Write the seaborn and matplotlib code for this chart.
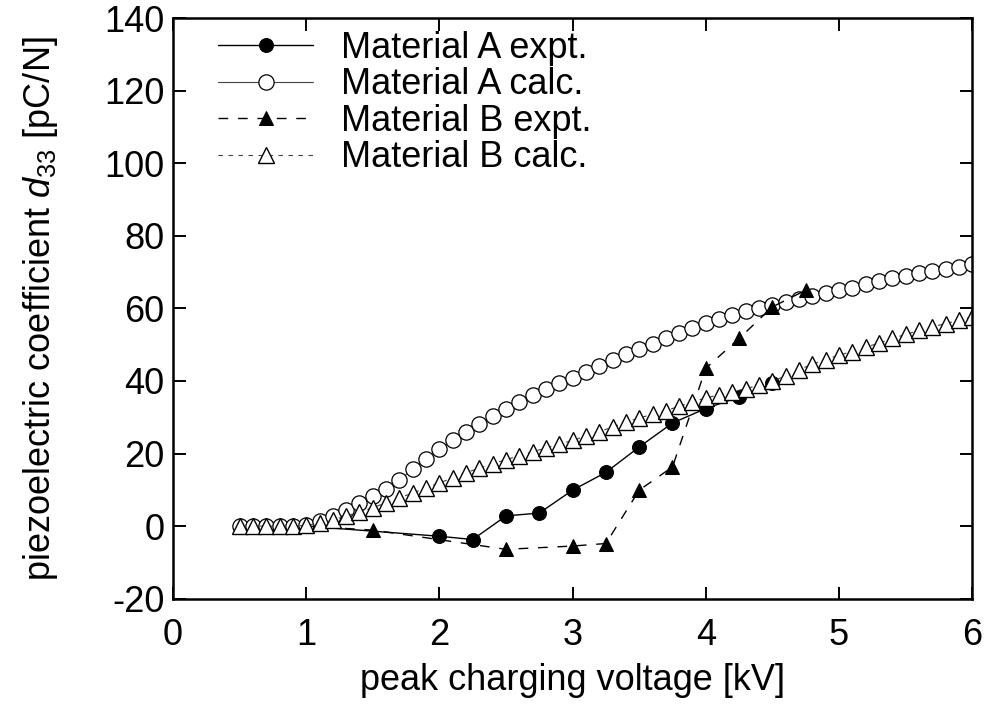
import numpy as np
import pandas as pd
import matplotlib
matplotlib.use("Agg")
import matplotlib.pyplot as plt
import seaborn as sns

# Measured points (peak charging voltage in kV, d33 in pC/N)
a_expt_kv = [1.0, 2.0, 2.25, 2.5, 2.75, 3.0, 3.25, 3.5, 3.75, 4.0, 4.25, 4.5]
a_expt_d33 = [0.0, -2.8, -3.7, 2.8, 3.6, 9.9, 14.8, 21.8, 28.4, 32.4, 35.6, 39.3]

b_expt_kv = [1.0, 1.5, 2.5, 3.0, 3.25, 3.5, 3.75, 4.0, 4.25, 4.5, 4.75]
b_expt_d33 = [0.0, -1.1, -6.4, -5.5, -4.8, 9.9, 16.3, 43.5, 51.7, 60.4, 65.0]

# Calculated curves
calc_kv = [0.5, 0.6, 0.7, 0.8, 0.9, 1.0, 1.1, 1.2, 1.3, 1.4,
           1.5, 1.6, 1.7, 1.8, 1.9, 2.0, 2.1, 2.2, 2.3, 2.4,
           2.5, 2.6, 2.7, 2.8, 2.9, 3.0, 3.1, 3.2, 3.3, 3.4,
           3.5, 3.6, 3.7, 3.8, 3.9, 4.0, 4.1, 4.2, 4.3, 4.4,
           4.5, 4.6, 4.7, 4.8, 4.9, 5.0, 5.1, 5.2, 5.3, 5.4,
           5.5, 5.6, 5.7, 5.8, 5.9, 6.0]
a_calc_d33 = [0.0, 0.0, 0.0, 0.0, 0.0, 0.3, 1.3, 2.8, 4.5, 6.3,
              8.2, 10.3, 12.8, 15.6, 18.5, 21.2, 23.6, 25.9, 28.1, 30.2,
              32.2, 34.1, 36.0, 37.7, 39.3, 40.9, 42.5, 44.1, 45.7, 47.3,
              48.8, 50.3, 51.7, 53.1, 54.5, 55.9, 57.2, 58.3, 59.3, 60.2,
              61.0, 61.8, 62.6, 63.4, 64.2, 65.0, 65.7, 66.6, 67.4, 68.3,
              69.0, 69.7, 70.3, 70.9, 71.5, 72.1]
b_calc_d33 = [0.0, 0.0, 0.0, 0.0, 0.0, 0.2, 0.8, 1.7, 2.8, 3.9,
              5.1, 6.4, 7.8, 9.1, 10.5, 11.9, 13.3, 14.7, 16.0, 17.2,
              18.3, 19.4, 20.5, 21.5, 22.6, 23.6, 24.8, 26.0, 27.3, 28.6,
              29.8, 30.8, 31.8, 33.0, 34.2, 35.3, 36.2, 37.0, 37.9, 38.8,
              39.9, 41.4, 43.1, 44.6, 45.9, 47.1, 48.1, 49.3, 50.4, 51.7,
              52.8, 53.9, 54.9, 55.8, 56.7, 57.6]

x_ticks = [0, 1, 2, 3, 4, 5, 6]
y_ticks = [-20, 0, 20, 40, 60, 80, 100, 120, 140]

sns.set_theme(style="ticks")
plt.rcParams["font.family"] = ["Liberation Sans", "DejaVu Sans"]
plt.rcParams["mathtext.fontset"] = "custom"
plt.rcParams["mathtext.rm"] = "Liberation Sans"
plt.rcParams["mathtext.it"] = "Liberation Sans:italic"
plt.rcParams["text.color"] = "black"
plt.rcParams["axes.labelcolor"] = "black"

fig = plt.figure(figsize=(9.91, 7.10), dpi=100)
ax = fig.add_axes([0.1746, 0.1568, 0.8064, 0.8178])

FS = 26

series = [
    ("Material A expt.", a_expt_kv, a_expt_d33,
     dict(marker="o", markersize=10, markerfacecolor="black",
          markeredgecolor="black", linestyle="-", linewidth=1.0, color="black")),
    ("Material A calc.", calc_kv, a_calc_d33,
     dict(marker="o", markersize=11, markerfacecolor="white",
          markeredgecolor="black", markeredgewidth=0.9, linestyle="-",
          linewidth=0.8, color="#444444")),
    ("Material B expt.", b_expt_kv, b_expt_d33,
     dict(marker="^", markersize=10, markerfacecolor="black",
          markeredgecolor="black", linestyle=(0, (7, 7)), linewidth=1.0,
          color="black")),
    ("Material B calc.", calc_kv, b_calc_d33,
     dict(marker="^", markersize=11.5, markerfacecolor="white",
          markeredgecolor="black", markeredgewidth=1.0,
          linestyle=(0, (4, 5)), linewidth=0.8, color="#444444")),
]

for label, xs, ys, style in series:
    df = pd.DataFrame({"kv": xs, "d33": ys})
    sns.lineplot(data=df, x="kv", y="d33", ax=ax, label=label,
                 sort=False, estimator=None, clip_on=True, **style)

ax.set_xlim(0, 6)
ax.set_ylim(-20, 140)
ax.set_xticks(x_ticks)
ax.set_yticks(y_ticks)
ax.set_xticklabels([str(v) for v in x_ticks])
ax.set_yticklabels([str(v) for v in y_ticks])

ax.tick_params(axis="both", direction="in", length=9, width=1.4,
               top=True, right=True, labelsize=FS, colors="black")
ax.tick_params(axis="x", pad=14)
ax.tick_params(axis="y", pad=6)
for sp in ax.spines.values():
    sp.set_visible(True)
    sp.set_linewidth(1.8)
    sp.set_color("black")

ax.set_xlabel("peak charging voltage [kV]", fontsize=FS, labelpad=7,
              color="black")
ax.set_ylabel(r"piezoelectric coefficient $\mathit{d}_{\mathit{33}}$ [pC/N]",
              fontsize=FS, labelpad=32, color="black")

leg = ax.legend(loc="upper left", bbox_to_anchor=(0.056, 0.978),
                frameon=False, fontsize=FS, handlelength=2.65,
                handletextpad=0.75, labelspacing=0.04, borderaxespad=0,
                borderpad=0, numpoints=1, labelcolor="black")

fig.savefig("out.png", dpi=100, facecolor="white")
